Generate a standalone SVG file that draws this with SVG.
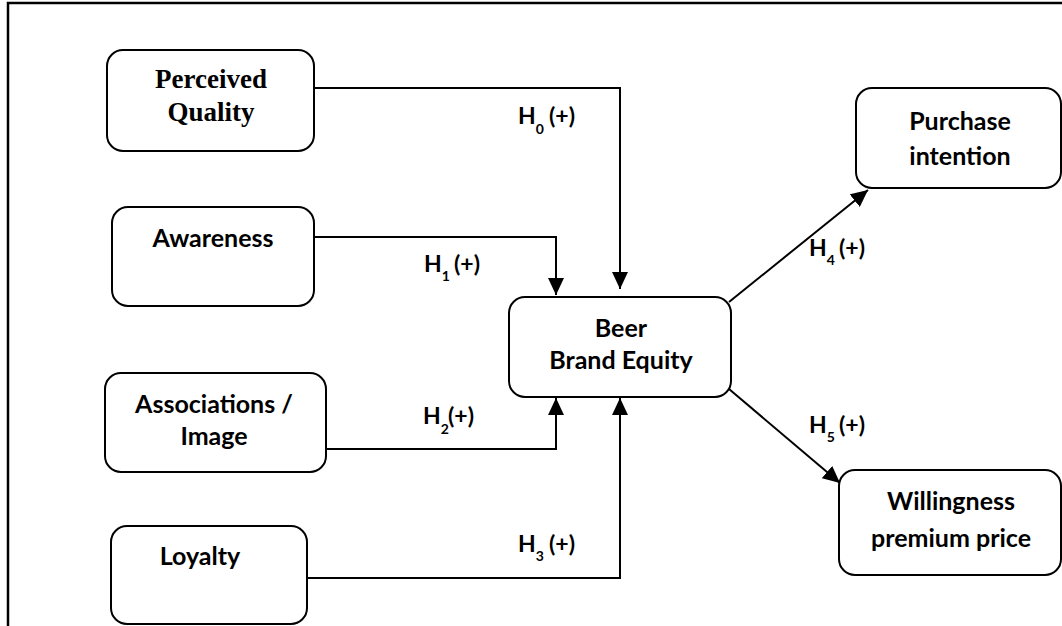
<svg xmlns="http://www.w3.org/2000/svg" width="1062" height="626" viewBox="0 0 1062 626">
<style>
.box{fill:#fff;stroke:#000;stroke-width:2}
.c{fill:none;stroke:#000;stroke-width:2}
.t{font-family:Lato,"Liberation Sans",sans-serif;font-weight:bold;font-size:25px;fill:#000;text-anchor:middle}
.ts{font-family:"Liberation Serif","Times New Roman",serif;font-weight:bold;font-size:27px;fill:#000;text-anchor:middle}
.l{font-family:Lato,"Liberation Sans",sans-serif;font-weight:bold;font-size:23px;fill:#000}
.sub{font-size:14px}
</style>
<defs>
<marker id="ah" markerUnits="userSpaceOnUse" markerWidth="17" markerHeight="16" refX="17" refY="8" orient="auto">
<path d="M0,0 L17,8 L0,16 z" fill="#000"/>
</marker>
</defs>
<rect width="1062" height="626" fill="#fff"/>
<path d="M8,626 V3 H1062" fill="none" stroke="#000" stroke-width="2.5"/>
<g id="connectors">
<path class="c" d="M314,88 H620 V289" marker-end="url(#ah)"/>
<path class="c" d="M314,237 H556 V295" marker-end="url(#ah)"/>
<path class="c" d="M326,449 H556 V398" marker-end="url(#ah)"/>
<path class="c" d="M307,578 H620 V398" marker-end="url(#ah)"/>
<path class="c" d="M729,302 L868,190" marker-end="url(#ah)"/>
<path class="c" d="M729,389 L840,483" marker-end="url(#ah)"/>
<text class="l" x="518" y="124">H<tspan class="sub" dy="10">0</tspan><tspan dy="-10" x="549">(+)</tspan></text>
<text class="l" x="424" y="272">H<tspan class="sub" dy="9">1</tspan><tspan dy="-9" x="454">(+)</tspan></text>
<text class="l" x="423" y="424">H<tspan class="sub" dy="10">2</tspan><tspan dy="-10" x="448">(+)</tspan></text>
<text class="l" x="518" y="552">H<tspan class="sub" dy="9">3</tspan><tspan dy="-9" x="549">(+)</tspan></text>
<text class="l" x="809" y="256">H<tspan class="sub" dy="9">4</tspan><tspan dy="-9" x="839">(+)</tspan></text>
<text class="l" x="809" y="433">H<tspan class="sub" dy="9">5</tspan><tspan dy="-9" x="839">(+)</tspan></text>
</g>
<g id="perceived-quality">
<rect class="box" x="107" y="50" width="207" height="101" rx="16"/>
<text class="ts" x="211" y="88">Perceived</text>
<text class="ts" x="211" y="121">Quality</text>
</g>
<g id="awareness">
<rect class="box" x="112" y="207" width="202" height="99" rx="16"/>
<text class="t" x="213" y="247">Awareness</text>
</g>
<g id="associations">
<rect class="box" x="105" y="373" width="221" height="99" rx="16"/>
<text class="t" x="214" y="413">Associations /</text>
<text class="t" x="214" y="445">Image</text>
</g>
<g id="loyalty">
<rect class="box" x="111" y="526" width="196" height="98" rx="16"/>
<text class="t" x="200" y="565">Loyalty</text>
</g>
<g id="beer-brand-equity">
<rect class="box" x="509" y="297" width="222" height="100" rx="16"/>
<text class="t" x="621" y="337">Beer</text>
<text class="t" x="621" y="369">Brand Equity</text>
</g>
<g id="purchase-intention">
<rect class="box" x="856" y="88" width="205" height="100" rx="16"/>
<text class="t" x="960" y="130">Purchase</text>
<text class="t" x="960" y="165">intention</text>
</g>
<g id="willingness">
<rect class="box" x="839" y="470" width="222" height="105" rx="16"/>
<text class="t" x="951" y="510">Willingness</text>
<text class="t" x="951" y="547">premium price</text>
</g>
</svg>
